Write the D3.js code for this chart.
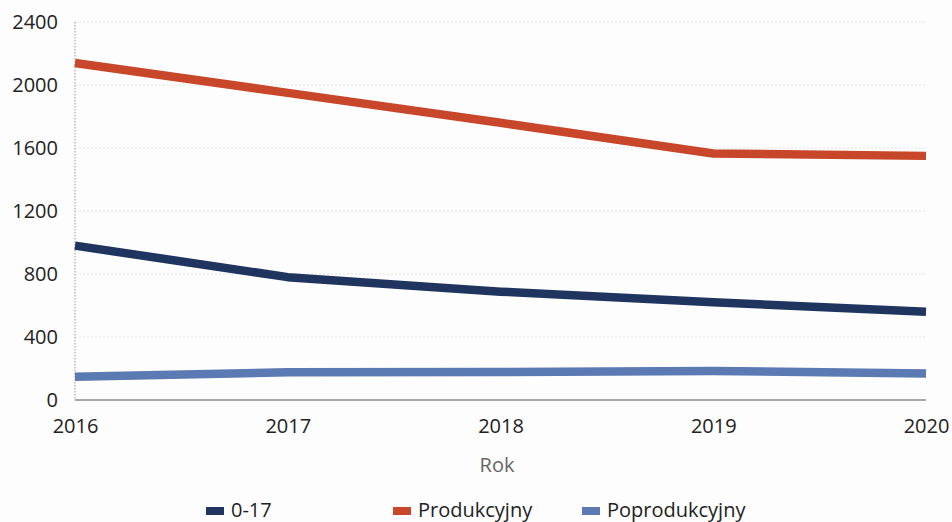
<!DOCTYPE html>
<html><head><meta charset="utf-8">
<script src="https://cdn.jsdelivr.net/npm/d3@7"></script>
<style>body{margin:0;background:#fdfdfd;}svg{display:block;font-family:"Open Sans",sans-serif;}</style>
</head><body><svg id="c" width="952" height="522"></svg>
<script>
const years = [2016, 2017, 2018, 2019, 2020];
const yTicks = [0, 400, 800, 1200, 1600, 2000, 2400];
const seriesNames = ["0-17", "Produkcyjny", "Poprodukcyjny"];
const seriesColors = ["#1f3560", "#c8472a", "#5b79b2"];
const v017 = [980, 780, 688, 620, 560];
const vProd = [2140, 1950, 1760, 1565, 1550];
const vPoprod = [148, 176, 178, 184, 168];
const seriesValues = [v017, vProd, vPoprod];

const svg = d3.select("#c");
const x = d3.scaleLinear().domain([2016, 2020]).range([75, 926]);
const y = d3.scaleLinear().domain([0, 2400]).range([400, 22]);

// gridlines
svg.append("g").selectAll("line").data(yTicks.filter(d => d > 0)).join("line")
  .attr("x1", x(2016)).attr("x2", x(2020)).attr("y1", d => y(d)).attr("y2", d => y(d))
  .attr("stroke", "#e2e2e2").attr("stroke-width", 1).attr("stroke-dasharray", "2,2");

// y axis dotted line
svg.append("line").attr("x1", x(2016)).attr("x2", x(2016)).attr("y1", y(2400)).attr("y2", y(0))
  .attr("stroke", "#999").attr("stroke-dasharray", "1.5,1.5");

// baseline
svg.append("line").attr("x1", x(2016)).attr("x2", x(2020)).attr("y1", y(0)).attr("y2", y(0))
  .attr("stroke", "#8a8a8a").attr("stroke-width", 1.5);

// y axis labels
const yAxis = d3.axisLeft(y).tickValues(yTicks).tickFormat(d3.format("d")).tickSize(0).tickPadding(17);
const gy = svg.append("g").attr("transform", `translate(${x(2016)},0)`).call(yAxis);
gy.select(".domain").remove();
gy.selectAll("text").attr("font-size", 20).attr("fill", "#222").attr("font-family", "Open Sans");

// x axis labels
const xAxis = d3.axisBottom(x).tickValues(years).tickFormat(d3.format("d")).tickSize(0).tickPadding(19);
const gx = svg.append("g").attr("transform", `translate(0,${y(0)})`).call(xAxis);
gx.select(".domain").remove();
gx.selectAll("text").attr("font-size", 20).attr("fill", "#222").attr("font-family", "Open Sans");

// axis title
svg.append("text").attr("x", 497).attr("y", 472).attr("text-anchor", "middle")
  .attr("font-size", 20).attr("fill", "#666").text("Rok");

// lines
const line = d3.line().x((d, i) => x(years[i])).y(d => y(d)).curve(d3.curveLinear);
svg.append("g").selectAll("path").data(seriesValues).join("path")
  .attr("d", d => line(d)).attr("fill", "none").attr("stroke-linejoin", "round")
  .attr("stroke", (d, i) => seriesColors[i]).attr("stroke-width", 8.5);

// legend
const legX = [206, 393, 582];
const lg = svg.append("g").selectAll("g").data(seriesNames).join("g")
  .attr("transform", (d, i) => `translate(${legX[i]},517)`);
lg.append("rect").attr("x", 0).attr("y", -10).attr("width", 18).attr("height", 8)
  .attr("fill", (d, i) => seriesColors[i]);
lg.append("text").attr("x", 25).attr("y", 0).attr("font-size", 20).attr("fill", "#222").text(d => d);
</script></body></html>
